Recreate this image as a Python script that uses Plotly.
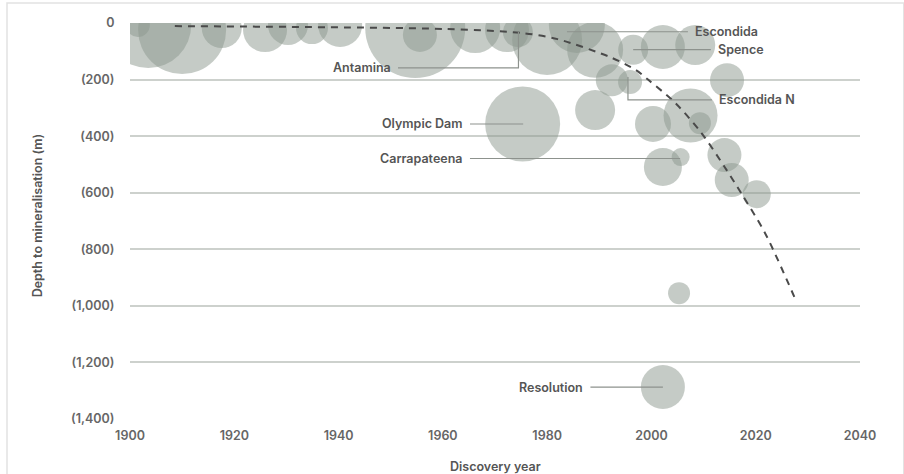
import plotly.graph_objects as go

# ---------------- data ----------------
# Deposits: discovery year, depth to mineralisation (m), relative contained-metal size
disc_year = [1975.3, 1989.2, 2007.5, 2009.3, 2000.3, 2014.5, 2002.2, 2005.6, 2014.0, 2015.4,
             2020.2, 2005.3, 2002.2,
             1992.4, 1995.9, 1996.5, 2002.2, 2008.4, 1989.2, 1980.0, 1985.7,
             1903.5, 1910.0, 1901.5, 1917.6, 1925.9, 1930.3, 1934.9, 1940.3, 1954.7, 1955.6,
             1966.2, 1972.3, 1974.4]
depth_m = [357, 308, 327, 354, 357, 202, 509, 474, 467, 555,
           605, 955, 1287,
           202, 209, 95, 85, 78, 95, 60, 7,
           7, 25, 7, 18, 25, 7, 18, 7, 18, 42,
           18, 25, 32]
contained = [14.06, 4.0, 7.29, 1.21, 3.24, 2.89, 3.61, 0.81, 2.89, 2.89,
             1.96, 1.21, 4.84,
             2.56, 1.44, 2.25, 4.84, 4.0, 7.84, 12.25, 7.84,
             18.49, 19.36, 1.44, 4.0, 4.84, 4.0, 2.56, 4.84, 25.0, 2.89,
             6.25, 4.84, 2.25]

# Trend of depth of discovery
trend_year = [1908.6, 1960, 1975, 1982, 1992, 1997, 1999.4, 2004.6, 2009.6, 2014, 2017.2, 2021.8, 2027.8]
trend_depth = [11, 21, 35, 57, 120, 166, 201, 283, 389, 508, 601, 743, 985]

# Named deposits: point, and label anchor
names = ["Antamina", "Olympic Dam", "Carrapateena", "Resolution", "Escondida", "Spence", "Escondida N"]
name_year = [1974.5, 1975.4, 2005.5, 2002.2, 1983.8, 1996.5, 1995.5]
name_depth = [32, 357, 479, 1287, 31, 94, 191]
label_year = [1950.4, 1964.2, 1964.2, 1987.3, 2008.0, 2012.4, 2012.6]
label_depth = [159, 357, 479, 1287, 31, 94, 272]
label_side = ["left", "left", "left", "left", "right", "right", "right"]

x_ticks = [1900, 1920, 1940, 1960, 1980, 2000, 2020, 2040]
y_ticks = [0, 200, 400, 600, 800, 1000, 1200, 1400]
y_ticktext = ["0", "(200)", "(400)", "(600)", "(800)", "(1,000)", "(1,200)", "(1,400)"]

FONT = "Inter"

# ---------------- figure ----------------
fig = go.Figure()

fig.add_trace(go.Scatter(
    x=disc_year, y=depth_m, mode="markers",
    marker=dict(size=contained, sizemode="area", sizeref=0.005,
                color="rgba(140,152,142,0.72)", line=dict(width=0)),
    cliponaxis=True, hoverinfo="skip", showlegend=False))

fig.add_trace(go.Scatter(
    x=trend_year, y=trend_depth, mode="lines",
    line=dict(color="#4a4a4a", width=2, dash="7px,6px", shape="spline", smoothing=0.8),
    hoverinfo="skip", showlegend=False))

# leader lines
lx, ly = [], []
for n, px, py, tx, ty, side in zip(names, name_year, name_depth, label_year, label_depth, label_side):
    gap = 1.0 if side == "left" else -1.0
    start = tx + gap
    if n == "Antamina":
        lx += [start, px, px, None]
        ly += [ty, ty, py, None]
    elif n == "Escondida N":
        lx += [px, px, start, None]
        ly += [py, ty, ty, None]
    else:
        lx += [start, px, None]
        ly += [ty, py, None]
fig.add_trace(go.Scatter(x=lx, y=ly, mode="lines",
                         line=dict(color="#8d928d", width=1.2),
                         hoverinfo="skip", showlegend=False))

for n, tx, ty, side in zip(names, label_year, label_depth, label_side):
    fig.add_annotation(x=tx, y=ty, text=n, showarrow=False,
                       xanchor="right" if side == "left" else "left", yanchor="middle",
                       font=dict(family=FONT, size=12.5, color="#555555", weight=600))

fig.add_annotation(x=0.5, y=-0.121, xref="paper", yref="paper", text="Discovery year",
                   showarrow=False, xanchor="center", yanchor="middle",
                   font=dict(family=FONT, size=12.5, color="#555555", weight=600))
fig.add_annotation(x=-0.127, y=0.515, xref="paper", yref="paper", text="Depth to mineralisation (m)",
                   showarrow=False, textangle=-90, xanchor="center", yanchor="middle",
                   font=dict(family=FONT, size=12.5, color="#555555", weight=600))

fig.add_shape(type="rect", xref="paper", yref="paper", x0=-0.1685, x1=1.06, y0=-0.145, y1=1.0505,
              line=dict(color="#e2e2e2", width=1.5), fillcolor="rgba(0,0,0,0)", layer="below")

fig.update_layout(
    width=904, height=474,
    margin=dict(l=130, r=44, t=23, b=55),
    paper_bgcolor="white", plot_bgcolor="white",
    xaxis=dict(range=[1900, 2040], tickvals=x_ticks, showgrid=False, zeroline=False,
               showline=False, ticks="outside", ticklen=5, tickcolor="rgba(0,0,0,0)",
               tickfont=dict(family=FONT, size=12.5, color="#666666", weight=600)),
    yaxis=dict(range=[1400, 0], tickvals=y_ticks, ticktext=y_ticktext, showgrid=True,
               gridcolor="#cdd1cd", gridwidth=2, zeroline=False, showline=False,
               ticks="outside", ticklen=12, tickcolor="rgba(0,0,0,0)",
               tickfont=dict(family=FONT, size=12.5, color="#666666", weight=600)),
)

fig.write_html("out.html", config={"displayModeBar": False},
               post_script="document.body.style.margin='0';")
